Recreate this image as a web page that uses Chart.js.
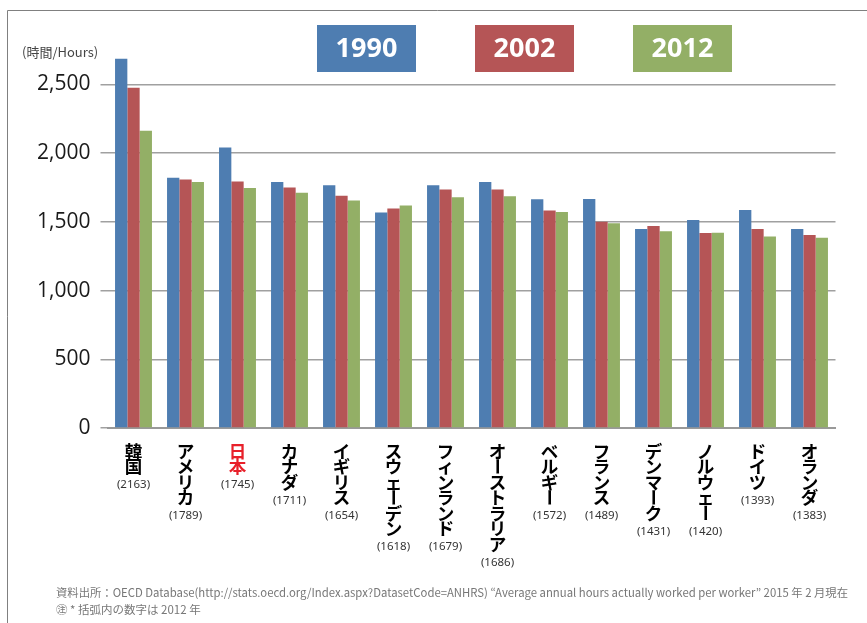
<!DOCTYPE html>
<html>
<head>
<meta charset="utf-8">
<script src="https://cdn.jsdelivr.net/npm/chart.js@4.4.1/dist/chart.umd.min.js"></script>
<style>
    html, body { margin: 0; padding: 0; background: #fff; }
    canvas { display: block; }
</style>
</head>
<body>
<canvas id="hoursChart" width="867" height="623"></canvas>
<script>
// data
var countries = ['韓国', 'アメリカ', '日本', 'カナダ', 'イギリス', 'スウェーデン', 'フィンランド',
    'オーストラリア', 'ベルギー', 'フランス', 'デンマーク', 'ノルウェー', 'ドイツ', 'オランダ'];
var years = ['1990', '2002', '2012'];
var hours1990 = [2685, 1820, 2040, 1790, 1765, 1568, 1765, 1790, 1663, 1665, 1447, 1513, 1585, 1447];
var hours2002 = [2475, 1808, 1793, 1750, 1690, 1597, 1735, 1735, 1582, 1500, 1469, 1418, 1447, 1404];
var hours2012 = [2163, 1789, 1745, 1711, 1654, 1618, 1679, 1686, 1572, 1489, 1431, 1420, 1393, 1383];
var yTicks = [0, 500, 1000, 1500, 2000, 2500];
var highlight = '日本';
var yTitle = '(時間/Hours)';
var sourceNote = '資料出所：OECD Database(http://stats.oecd.org/Index.aspx?DatasetCode=ANHRS) “Average annual hours actually worked per worker” 2015 年 2 月現在';
var footNote = '㊟ * 括弧内の数字は 2012 年';

var colors = ['#4e7db1', '#b55556', '#93af66'];

document.addEventListener('DOMContentLoaded', function () {
    var ctx = document.getElementById('hoursChart').getContext('2d');

    // white page + grey frame on top and left
    var framePlugin = {
        id: 'frame',
        beforeDraw: function (chart) {
            var c = chart.ctx;
            c.save();
            c.fillStyle = '#fff';
            c.fillRect(0, 0, chart.width, chart.height);
            c.strokeStyle = '#808080';
            c.lineWidth = 1;
            c.beginPath();
            c.moveTo(7.5, chart.height);
            c.lineTo(7.5, 10.5);
            c.lineTo(chart.width, 10.5);
            c.stroke();
            c.restore();
        }
    };

    // vertical country names + 2012 value under each group
    var namePlugin = {
        id: 'names',
        afterDraw: function (chart) {
            var c = chart.ctx;
            var xs = chart.scales.x;
            c.save();
            c.textAlign = 'center';
            c.textBaseline = 'middle';
            countries.forEach(function (name, i) {
                var cx = xs.getPixelForValue(i);
                var chars = Array.from(name);
                c.font = 'bold 17.5px "Noto Sans CJK JP"';
                c.fillStyle = name === highlight ? '#e8202a' : '#000';
                chars.forEach(function (ch, j) {
                    var cy = 451 + j * 15.5;
                    if (ch === 'ー') {
                        c.save();
                        c.translate(cx, cy);
                        c.rotate(Math.PI / 2);
                        c.fillText(ch, 0, 0);
                        c.restore();
                    } else {
                        c.fillText(ch, cx, cy);
                    }
                });
                c.font = '11.5px "Noto Sans"';
                c.fillStyle = '#333';
                c.fillText('(' + hours2012[i] + ')', cx, 451 + chars.length * 15.5 + 3);
            });
            c.restore();
        }
    };

    // coloured year boxes at the top
    var yearPlugin = {
        id: 'yearBoxes',
        afterDraw: function (chart) {
            var c = chart.ctx;
            var boxX = [317, 475, 633];
            c.save();
            c.textAlign = 'center';
            c.textBaseline = 'middle';
            c.font = 'bold 27px "Noto Sans"';
            chart.data.datasets.forEach(function (ds, i) {
                c.fillStyle = ds.backgroundColor;
                c.fillRect(boxX[i], 25, 99, 47);
                c.fillStyle = '#fff';
                c.fillText(ds.label, boxX[i] + 49.5, 49);
            });
            c.restore();
        }
    };

    // axis title and source notes
    var notePlugin = {
        id: 'notes',
        afterDraw: function (chart) {
            var c = chart.ctx;
            c.save();
            c.textBaseline = 'middle';
            c.textAlign = 'left';
            c.fillStyle = '#444';
            c.font = '13px "Noto Sans CJK JP"';
            c.fillText(yTitle, 22, 52);
            c.fillStyle = '#777';
            c.font = '11.5px "Noto Sans CJK JP"';
            c.fillText(sourceNote, 56, 593, 792);
            c.fillText(footNote, 56, 610);
            c.restore();
        }
    };

    new Chart(ctx, {
        type: 'bar',
        data: {
            labels: countries,
            datasets: [
                { label: years[0], data: hours1990, backgroundColor: colors[0] },
                { label: years[1], data: hours2002, backgroundColor: colors[1] },
                { label: years[2], data: hours2012, backgroundColor: colors[2] }
            ]
        },
        options: {
            responsive: false,
            animation: false,
            layout: { padding: { left: 0, right: 31.5, top: 48, bottom: 0 } },
            datasets: {
                bar: { categoryPercentage: 0.71, barPercentage: 1.0 }
            },
            plugins: {
                legend: { display: false },
                tooltip: { enabled: false }
            },
            scales: {
                x: {
                    grid: { display: false },
                    border: { display: true, color: '#999', width: 2 },
                    ticks: { display: false },
                    afterFit: function (scale) { scale.height = 195; }
                },
                y: {
                    min: 0,
                    max: 2764,
                    afterBuildTicks: function (scale) {
                        scale.ticks = yTicks.map(function (v) { return { value: v }; });
                    },
                    afterFit: function (scale) { scale.width = 107.5; },
                    grid: { color: '#a0a0a0', lineWidth: 1.5, tickLength: 7 },
                    border: { display: false },
                    ticks: {
                        padding: 10,
                        color: '#1a1a1a',
                        font: { family: 'Open Sans', size: 21 },
                        callback: function (v) { return v.toLocaleString('en-US'); }
                    }
                }
            }
        },
        plugins: [framePlugin, namePlugin, yearPlugin, notePlugin]
    });
});
</script>
</body>
</html>
